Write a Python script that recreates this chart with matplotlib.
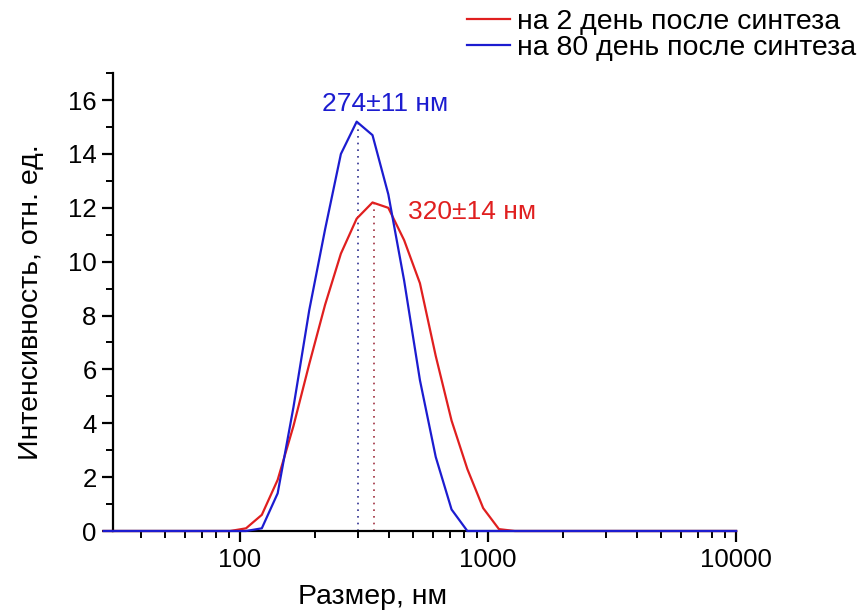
import numpy as np
import matplotlib
matplotlib.use('Agg')
import matplotlib.pyplot as plt
from matplotlib.ticker import LogLocator, MultipleLocator, FuncFormatter, NullFormatter

plt.rcParams['font.family'] = ['Liberation Sans', 'DejaVu Sans']

# size bins (nm)
size = [28.21, 32.67, 37.84, 43.82, 50.75, 58.77, 68.06, 78.82, 91.28, 105.7,
        122.4, 141.8, 164.2, 190.1, 220.2, 255.0, 295.3, 342.0, 396.1, 458.7,
        531.2, 615.1, 712.4, 825.0, 955.4, 1106, 1281, 1484, 1718, 1990,
        2305, 2669, 3091, 3580, 4145, 4801, 5560, 6439, 7456, 8635, 10000]

# intensity, day 2
day2 = [0, 0, 0, 0, 0, 0, 0, 0, 0, 0.1,
        0.6, 1.9, 3.9, 6.2, 8.4, 10.3, 11.6, 12.2, 12.0, 10.8,
        9.2, 6.5, 4.1, 2.3, 0.85, 0.07, 0, 0, 0, 0,
        0, 0, 0, 0, 0, 0, 0, 0, 0, 0, 0]

# intensity, day 80
day80 = [0, 0, 0, 0, 0, 0, 0, 0, 0, 0,
         0.1, 1.4, 4.6, 8.2, 11.2, 14.0, 15.2, 14.7, 12.5, 9.3,
         5.6, 2.75, 0.8, 0, 0, 0, 0, 0, 0, 0,
         0, 0, 0, 0, 0, 0, 0, 0, 0, 0, 0]

labels = ['на 2 день после синтеза', 'на 80 день после синтеза']
peak2, peak80 = 348, 298
ann2, ann80 = '320±14 нм', '274±11 нм'

red = '#e01f1f'
blue = '#1c1cd0'

fig = plt.figure(figsize=(8.64, 6.10), dpi=100)
ax = fig.add_axes([0.131, 0.1295, 0.721, 0.7505])

ax.plot(size, day2, color=red, lw=1.6, label=labels[0], zorder=3, clip_on=False)
ax.plot(size, day80, color=blue, lw=1.6, label=labels[1], zorder=3, clip_on=False)

# peak markers
ax.plot([peak80, peak80], [0, 15.1], color='#303090', ls=(0, (1, 3)), lw=1.2, zorder=2)
ax.plot([peak2, peak2], [0, 12.15], color='#a03040', ls=(0, (1, 3)), lw=1.2, zorder=2)

ax.text(384, 15.85, ann80, color=blue, fontsize=19, ha='center', va='center')
ax.text(476, 11.85, ann2, color=red, fontsize=19, ha='left', va='center')

ax.set_xscale('log')
ax.set_xlim(30.8, 10000)
ax.set_ylim(0, 17)

ax.xaxis.set_major_locator(LogLocator(base=10))
ax.xaxis.set_minor_locator(LogLocator(base=10, subs=np.arange(2, 10)))
ax.xaxis.set_major_formatter(FuncFormatter(lambda v, p: f'{v:.0f}'))
ax.xaxis.set_minor_formatter(NullFormatter())
ax.yaxis.set_major_locator(MultipleLocator(2))
ax.yaxis.set_minor_locator(MultipleLocator(1))

for side in ['top', 'right']:
    ax.spines[side].set_visible(False)
for side in ['left', 'bottom']:
    ax.spines[side].set_linewidth(1.6)

ax.tick_params(which='major', direction='out', length=8, width=1.6, labelsize=18.5, pad=4)
ax.tick_params(which='minor', direction='out', length=5, width=1.4)

ax.set_xlabel('Размер, нм', fontsize=20.5, labelpad=9, x=0.417)
ax.set_ylabel('Интенсивность, отн. ед.', fontsize=20.5, labelpad=17)

fig.legend(loc='upper left', bbox_to_anchor=(466 / 864, 0.988), bbox_transform=fig.transFigure,
           frameon=False, fontsize=20.5, handlelength=1.5, handletextpad=0.25,
           labelspacing=0.0, borderaxespad=0, borderpad=0.05)

fig.savefig('out.png', dpi=100)
